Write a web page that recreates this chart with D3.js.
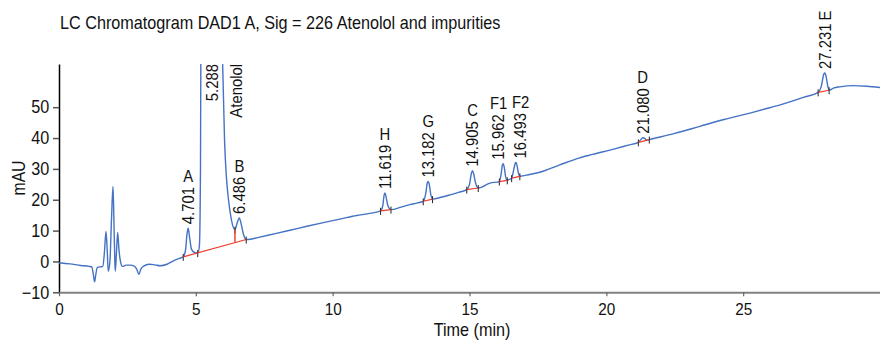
<!DOCTYPE html>
<html>
<head>
<meta charset="utf-8">
<script src="https://cdn.jsdelivr.net/npm/d3@7"></script>
<style>
  body { margin: 0; background: #fff; }
  svg { display: block; font-family: "Liberation Sans", Arial, sans-serif; }
</style>
</head>
<body>
<svg id="chart" width="880" height="341"></svg>
<script>
'use strict'

// trace: time (min) and signal (mAU)
const time = [0.0, 0.4, 0.8, 1.1, 1.2, 1.26, 1.3, 1.34, 1.4, 1.55, 1.6, 1.66, 1.717, 1.76, 1.8, 1.86, 1.92, 1.973, 2.01, 2.04, 2.058, 2.1, 2.144, 2.19, 2.24, 2.32, 2.45, 2.6, 2.75, 2.84, 2.92, 2.99, 3.08, 3.3, 3.5, 3.7, 3.95, 4.2, 4.4,
  4.54, 4.62, 4.68, 4.72, 4.77, 4.84, 4.95, 5.07, 5.13, 5.17, 5.2, 5.3, 5.6, 5.75, 5.9, 5.98, 6.05, 6.12, 6.2, 6.3, 6.43, 6.52, 6.59, 6.66, 6.74, 6.84,
  7.0, 7.34, 7.9, 8.44, 9.06, 9.66, 10.3, 10.88, 11.3, 11.75, 11.83, 11.88, 11.91, 11.95, 12.02, 12.13, 12.5, 12.82, 13.1,
  13.31, 13.4, 13.46, 13.49, 13.53, 13.58, 13.65, 14.0, 14.29, 14.6, 14.9, 15.0, 15.07, 15.11, 15.15, 15.22, 15.32, 15.75,
  16.09, 16.15, 16.2, 16.23, 16.27, 16.32, 16.38, 16.46, 16.54, 16.61, 16.67, 16.7, 16.74, 16.79, 16.84, 17.2, 17.57, 18.3, 19.0, 19.5, 20.31, 20.8,
  21.17, 21.25, 21.33, 21.4, 21.48, 21.57, 22.5, 23.42, 24.3, 25.25, 26.0, 26.59, 27.2, 27.74, 27.86, 27.95, 27.99, 28.04, 28.1, 28.14, 28.3, 28.53, 29.02, 29.51, 30.0]
const mAU = [-0.4, -0.8, -1.3, -1.6, -1.8, -4.5, -6.6, -4.5, -1.9, -1.7, -1.6, 3, 9.7, 4, -3.2, 0, 14, 24.3, 12, 0, -3.2, 3, 9.4, 4, 0.3, -1.6, -1.2, -1.2, -1.5, -2.5, -4.2, -2.5, -1.6, -0.9, -1.1, -1.4, -0.9, 0.3, 1.0,
  1.5, 3.5, 9, 10.8, 8, 4, 2.9, 2.7, 5, 30, 120, 350, 420, 200, 100, 64, 39, 27, 19.5, 13.5, 10.3, 12.8, 14.1, 12, 8.8, 7.1,
  7.2, 7.9, 9.0, 10.1, 11.4, 12.6, 13.8, 14.9, 15.5, 16.4, 18, 21.5, 22.2, 21, 18, 16.8, 17.6, 18.4, 19.0,
  19.5, 22, 25.5, 25.9, 25, 22, 20.2, 20.9, 21.6, 22.4, 23.3, 25, 28.6, 29.4, 28.5, 25.5, 23.8, 25.4,
  25.9, 28, 31.2, 31.7, 30.5, 27.5, 26.3, 26.6, 27.0, 29.5, 31.8, 32.1, 31, 28.5, 27.6, 28.2, 28.9, 31.3, 33.5, 34.7, 36.5, 37.7,
  38.6, 39.4, 40.1, 39.9, 39.3, 39.5, 41.5, 43.8, 46.0, 48.1, 49.9, 51.4, 53.2, 54.8, 57, 60.8, 61.1, 59.5, 56.5, 55.5, 56.2, 56.6, 57.0, 56.8, 56.4]

// integrated peaks
const peakLabels = ['4.701', '5.288', '6.486', '11.619', '13.182', '14.905', '15.962', '16.493', '21.080', '27.231']
const peakNames = ['A', 'Atenolol', 'B', 'H', 'G', 'C', 'F1', 'F2', 'D', 'E']
const peakStart = [4.54, 5.07, 6.43, 11.75, 13.31, 14.9, 16.09, 16.54, 21.17, 27.74]
const peakEnd = [5.07, 6.43, 6.84, 12.13, 13.65, 15.32, 16.38, 16.84, 21.57, 28.14]

const xTicks = [0, 5, 10, 15, 20, 25]
const yTicks = [-10, 0, 10, 20, 30, 40, 50]

const pLeft = 59, pRight = 880, pTop = 64, pBottom = 292.3
const squeeze = 0.9   // narrow lettering like the original

const x = d3.scaleLinear().domain([0, 30]).range([pLeft, pRight])
const y = d3.scaleLinear().domain([-10, 64]).range([pBottom, pTop])

const svg = d3.select('#chart')
const blue = '#4472c4', red = '#ee3b2b', ink = '#111'

// value of the trace at t (straight read between picture points)
const valueAt = function(t) {
  const i = d3.bisectLeft(time, t)
  if (i <= 0) return mAU[0]
  if (i >= time.length) return mAU[mAU.length - 1]
  const t0 = time[i - 1], t1 = time[i]
  return mAU[i - 1] + (mAU[i] - mAU[i - 1]) * (t - t0) / (t1 - t0)
}

// text placed at (px,py), optionally turned, squeezed along its run
const addText = function(parent, str, px, py, size, turned) {
  return parent.append('text')
    .attr('transform', 'translate(' + px + ',' + py + ')' + (turned ? ' rotate(-90)' : '') + ' scale(' + squeeze + ',1)')
    .attr('font-size', size)
    .attr('fill', ink)
    .text(str)
}

addText(svg, 'LC Chromatogram DAD1 A, Sig = 226 Atenolol and impurities', 60, 29, 18, false)

svg.append('defs').append('clipPath').attr('id', 'plot')
  .append('rect').attr('x', pLeft).attr('y', pTop).attr('width', pRight - pLeft).attr('height', pBottom - pTop)

// axes
const yAxis = svg.append('g')
  .attr('transform', 'translate(' + pLeft + ',0)')
  .call(d3.axisLeft(y).tickValues(yTicks).tickSize(6).tickPadding(4.8).tickSizeOuter(0))
yAxis.select('.domain').attr('stroke', '#000').attr('stroke-width', 1.5)
yAxis.selectAll('.tick line').attr('stroke', '#555').attr('stroke-width', 1.5)
yAxis.selectAll('.tick text').attr('font-size', 18).attr('fill', ink).attr('transform', 'scale(' + squeeze + ',1)')

const xAxis = svg.append('g')
  .attr('transform', 'translate(0,' + pBottom + ')')
  .call(d3.axisBottom(x).tickValues(xTicks).tickSize(4).tickPadding(6.6).tickSizeOuter(0))
xAxis.select('.domain').attr('stroke', '#808080').attr('stroke-width', 2)
xAxis.selectAll('.tick line').attr('stroke', '#666').attr('stroke-width', 1.2)
xAxis.selectAll('.tick text').attr('font-size', 17).attr('fill', ink).attr('transform', 'scale(' + squeeze + ',1)')
svg.selectAll('g').attr('font-family', null)

addText(svg, 'mAU', 19, 178, 17.5, true).attr('text-anchor', 'middle').attr('dy', '0.35em')
addText(svg, 'Time (min)', 472, 336, 18, false).attr('text-anchor', 'middle')

// trace
const plot = svg.append('g').attr('clip-path', 'url(#plot)')
const line = d3.line().x(d => x(d[0])).y(d => y(d[1])).curve(d3.curveMonotoneX)
plot.append('path')
  .datum(time.map((t, i) => [t, mAU[i]]))
  .attr('fill', 'none')
  .attr('stroke', blue)
  .attr('stroke-width', 1.4)
  .attr('d', line)

// baselines: peaks that touch share one baseline
const groups = []
peakStart.forEach((s, i) => {
  const g = groups[groups.length - 1]
  if (g && Math.abs(g.end - s) < 1e-6) { g.end = peakEnd[i]; g.cuts.push(s) }
  else groups.push({ start: s, end: peakEnd[i], cuts: [] })
})

const marks = svg.append('g')
groups.forEach(g => {
  const v0 = valueAt(g.start), v1 = valueAt(g.end)
  const base = t => v0 + (v1 - v0) * (t - g.start) / (g.end - g.start)
  ;[g.start, g.end].concat(g.cuts).forEach(t => {
    marks.append('line')
      .attr('x1', x(t)).attr('x2', x(t))
      .attr('y1', y(valueAt(t)) - 3).attr('y2', y(valueAt(t)) + 4)
      .attr('stroke', '#222').attr('stroke-width', 1)
  })
  marks.append('line')
    .attr('x1', x(g.start)).attr('y1', y(v0))
    .attr('x2', x(g.end)).attr('y2', y(v1))
    .attr('stroke', red).attr('stroke-width', 1.2)
  g.cuts.forEach(t => {
    marks.append('line')
      .attr('x1', x(t)).attr('x2', x(t))
      .attr('y1', y(valueAt(t))).attr('y2', y(base(t)))
      .attr('stroke', red).attr('stroke-width', 1.4)
  })
})

// peak labels at the apex of each peak
const apex = peakStart.map((s, i) => {
  let best = s, bv = -Infinity
  time.forEach((t, j) => { if (t >= s && t <= peakEnd[i] && mAU[j] > bv) { bv = mAU[j]; best = t } })
  return { t: best, v: bv }
})
const labelX = apex.map(a => x(a.t))
for (let i = 1; i < labelX.length; i++) {
  if (labelX[i] - labelX[i - 1] < 22) {
    const mid = (labelX[i] + labelX[i - 1]) / 2
    labelX[i - 1] = mid - 11
    labelX[i] = mid + 11
  }
}

const labelSize = 16.5
const labels = svg.append('g')
apex.forEach((a, i) => {
  const lx = labelX[i]
  const offChart = y(a.v) < pTop
  const num = addText(labels, peakLabels[i], lx, 0, labelSize, true).attr('dy', '0.35em')
  const len = num.node().getComputedTextLength() * squeeze
  const yb = offChart ? pTop + len : y(a.v) - 4
  num.attr('transform', 'translate(' + lx + ',' + yb + ') rotate(-90) scale(' + squeeze + ',1)')
  const numTop = yb - len

  if (offChart) {
    // name beside the number, hanging from the top
    const nm = addText(labels, peakNames[i], lx + 24, 0, labelSize, true).attr('dy', '0.35em')
    const nl = nm.node().getComputedTextLength() * squeeze
    nm.attr('transform', 'translate(' + (lx + 24) + ',' + (pTop + nl) + ') rotate(-90) scale(' + squeeze + ',1)')
  } else if (numTop - 5 - 12 < 14) {
    // no room above: continue along the number
    addText(labels, peakNames[i], lx, numTop - 3, labelSize, true).attr('dy', '0.35em')
  } else {
    addText(labels, peakNames[i], lx, numTop - 5, labelSize, false).attr('text-anchor', 'middle')
  }
})
</script>
</body>
</html>
